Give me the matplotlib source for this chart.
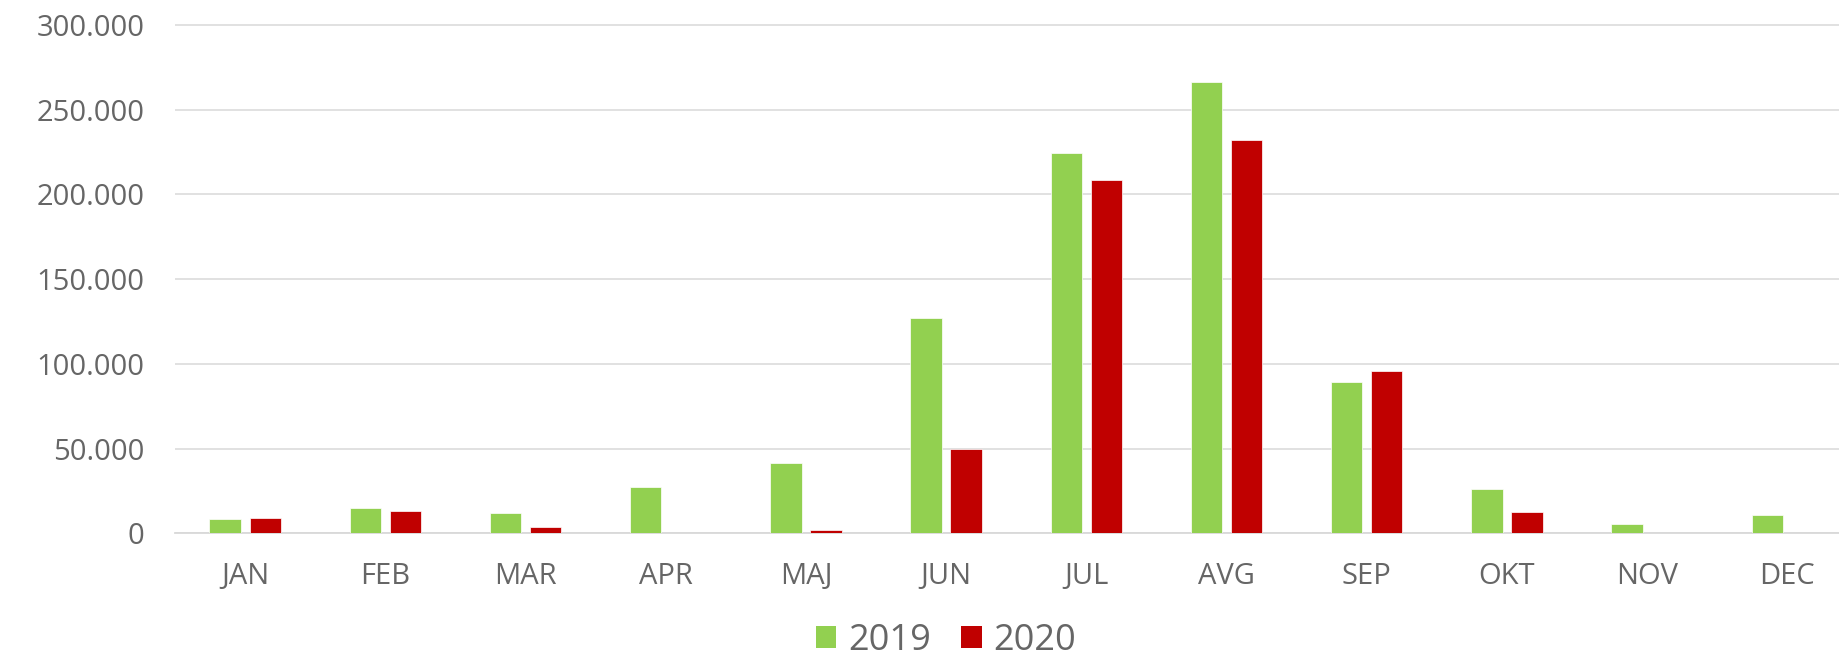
import matplotlib
matplotlib.use('Agg')
import matplotlib.pyplot as plt
from matplotlib.ticker import FuncFormatter
from matplotlib.patches import Patch
import numpy as np

# monthly values
months = ['JAN', 'FEB', 'MAR', 'APR', 'MAJ', 'JUN', 'JUL', 'AVG', 'SEP', 'OKT', 'NOV', 'DEC']
y2019 = [8400, 14800, 12200, 27500, 41700, 126900, 224700, 266400, 89100, 26300, 5500, 10600]
y2020 = [9200, 13400, 3500, 0, 1900, 49600, 208600, 232200, 95600, 12400, 0, 0]
series_names = ['2019', '2020']
colors = ['#92D050', '#C00000']
yticks = [0, 50000, 100000, 150000, 200000, 250000, 300000]

plt.rcParams['font.family'] = ['Open Sans', 'DejaVu Sans']
text_color = '#666666'

fig = plt.figure(figsize=(18.39, 6.57), dpi=100)
# axes runs a little past the right edge, like the cropped original
ax = fig.add_axes([0.0952, 0.1883, 0.9148, 0.7866])

x = np.arange(len(months))
w = 0.224
off = 0.143
ax.bar(x - off, y2019, width=w, color=colors[0], edgecolor='white', linewidth=0.5, zorder=3)
ax.bar(x + off, y2020, width=w, color=colors[1], edgecolor='white', linewidth=0.5, zorder=3)

ax.set_xlim(-0.5, len(months) - 0.5)
ax.set_ylim(0, 305000)
ax.set_yticks(yticks)
ax.yaxis.set_major_formatter(FuncFormatter(lambda v, p: f"{int(v):,}".replace(',', '.')))
ax.set_xticks(x)
ax.set_xticklabels(months)

ax.yaxis.grid(True, color='#D9D9D9', linewidth=1.1, zorder=0)
ax.set_axisbelow(True)
for s in ['top', 'right', 'left']:
    ax.spines[s].set_visible(False)
ax.spines['bottom'].set_color('#D9D9D9')
ax.spines['bottom'].set_linewidth(1.3)

ax.tick_params(axis='both', length=0, labelsize=21, colors=text_color)
ax.tick_params(axis='y', pad=22)
ax.tick_params(axis='x', pad=21)

handles = [Patch(facecolor=c, edgecolor='none') for c in colors]
leg = fig.legend(handles, series_names, loc='center', bbox_to_anchor=(0.5144, 0.0244),
                 ncol=2, frameon=False, fontsize=26, handlelength=0.56, handleheight=0.56,
                 handletextpad=0.33, columnspacing=0.85, borderpad=0)
for t in leg.get_texts():
    t.set_color(text_color)

fig.savefig('out.png', dpi=100)
